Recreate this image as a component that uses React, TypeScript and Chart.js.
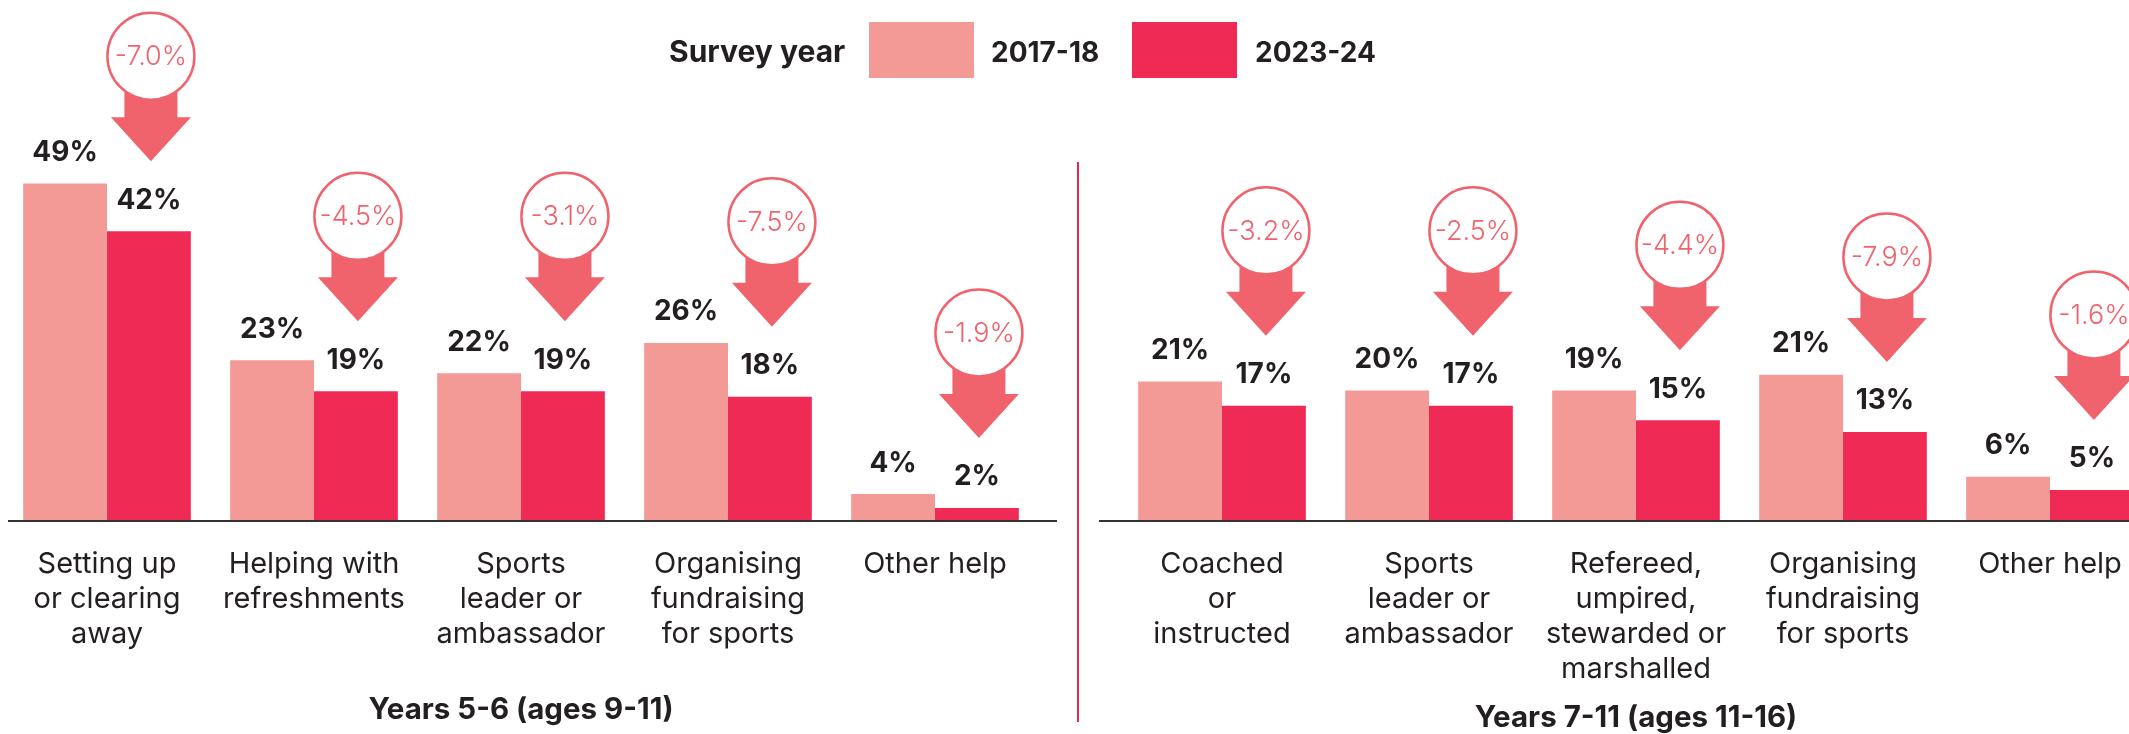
import React, { useEffect, useRef } from "react";
import { Chart, registerables } from "chart.js";

Chart.register(...registerables);

// ---------- data ----------
const SERIES_NAMES = ["2017-18", "2023-24"];
const LEGEND_TITLE = "Survey year";

const LEFT_CATEGORIES = [
  ["Setting up", "or clearing", "away"],
  ["Helping with", "refreshments"],
  ["Sports", "leader or", "ambassador"],
  ["Organising", "fundraising", "for sports"],
  ["Other help"],
];
const LEFT_2017 = [48.9, 23.3, 21.4, 25.8, 3.9];
const LEFT_2023 = [42.0, 18.8, 18.8, 18.0, 1.9];
const LEFT_LABELS_2017 = ["49%", "23%", "22%", "26%", "4%"];
const LEFT_LABELS_2023 = ["42%", "19%", "19%", "18%", "2%"];
const LEFT_CHANGE = ["-7.0%", "-4.5%", "-3.1%", "-7.5%", "-1.9%"];
const LEFT_TITLE = "Years 5-6 (ages 9-11)";

const RIGHT_CATEGORIES = [
  ["Coached", "or", "instructed"],
  ["Sports", "leader or", "ambassador"],
  ["Refereed,", "umpired,", "stewarded or", "marshalled"],
  ["Organising", "fundraising", "for sports"],
  ["Other help"],
];
const RIGHT_2017 = [20.2, 18.9, 18.9, 21.2, 6.4];
const RIGHT_2023 = [16.7, 16.7, 14.6, 12.9, 4.5];
const RIGHT_LABELS_2017 = ["21%", "20%", "19%", "21%", "6%"];
const RIGHT_LABELS_2023 = ["17%", "17%", "15%", "13%", "5%"];
const RIGHT_CHANGE = ["-3.2%", "-2.5%", "-4.4%", "-7.9%", "-1.6%"];
const RIGHT_TITLE = "Years 7-11 (ages 11-16)";

// ---------- style ----------
const FONT = "Inter, 'Noto Sans', sans-serif";
const PINK = "#f49a96";
const RED = "#ee2a55";
const ARROW = "#f0636d";
const DARK = "#231f20";
const DIVIDER = "#e3284f";

type PanelProps = {
  categories: string[][];
  a: number[];
  b: number[];
  labelsA: string[];
  labelsB: string[];
  change: string[];
  title: string;
  width: number;
  padLeft: number;
  padRight: number;
  titlePadBottom: number;
  lineLeft: number;
  lineRight: number;
};

function Panel(p: PanelProps) {
  const ref = useRef<HTMLCanvasElement | null>(null);
  useEffect(() => {
    if (!ref.current) return;
    const annot = {
      id: "annot",
      afterDraw(chart: any) {
        const ctx = chart.ctx;
        const y0 = chart.scales.y.getPixelForValue(0);
        const area = chart.chartArea;
        ctx.save();
        // baseline
        ctx.strokeStyle = "#333333";
        ctx.lineWidth = 2;
        ctx.beginPath();
        ctx.moveTo(area.left - p.lineLeft, y0);
        ctx.lineTo(area.right + p.lineRight, y0);
        ctx.stroke();
        // value labels
        ctx.fillStyle = DARK;
        ctx.font = `700 28px ${FONT}`;
        ctx.textAlign = "center";
        ctx.textBaseline = "middle";
        const m0 = chart.getDatasetMeta(0).data;
        const m1 = chart.getDatasetMeta(1).data;
        m0.forEach((el: any, i: number) => ctx.fillText(p.labelsA[i], el.x, el.y - 31));
        m1.forEach((el: any, i: number) => ctx.fillText(p.labelsB[i], el.x, el.y - 31));
        // arrows
        m1.forEach((el: any, i: number) => {
          const x = el.x + 2;
          const tip = el.y - 70;
          const headTop = tip - 44;
          const cy = tip - 105;
          ctx.fillStyle = ARROW;
          ctx.fillRect(x - 26.5, cy, 53, headTop - cy + 1);
          ctx.beginPath();
          ctx.moveTo(x - 40, headTop);
          ctx.lineTo(x + 40, headTop);
          ctx.lineTo(x, tip);
          ctx.closePath();
          ctx.fill();
          ctx.beginPath();
          ctx.arc(x, cy, 43.5, 0, Math.PI * 2);
          ctx.fillStyle = "#ffffff";
          ctx.fill();
          ctx.lineWidth = 2.5;
          ctx.strokeStyle = ARROW;
          ctx.stroke();
          ctx.fillStyle = ARROW;
          ctx.font = `300 27px ${FONT}`;
          ctx.fillText(p.change[i], x, cy + 1);
        });
        ctx.restore();
      },
    };
    const chart = new Chart(ref.current, {
      type: "bar",
      data: {
        labels: p.categories as any,
        datasets: [
          { label: SERIES_NAMES[0], data: p.a, backgroundColor: PINK },
          { label: SERIES_NAMES[1], data: p.b, backgroundColor: RED },
        ],
      },
      options: {
        animation: false,
        responsive: false,
        maintainAspectRatio: false,
        layout: { padding: { left: p.padLeft, right: p.padRight, top: 38, bottom: 0 } },
        datasets: { bar: { categoryPercentage: 0.81, barPercentage: 1 } } as any,
        plugins: { legend: { display: false }, tooltip: { enabled: false }, title: { display: false } },
        scales: {
          x: {
            grid: { display: false },
            border: { display: false },
            ticks: {
              color: DARK,
              font: { family: FONT, size: 29, lineHeight: 35 / 29 },
              padding: 18,
              maxRotation: 0,
              minRotation: 0,
              autoSkip: false,
            },
            title: {
              display: true,
              text: p.title,
              color: DARK,
              font: { family: FONT, size: 29.5, weight: "bold", lineHeight: 32.4 / 29.5 },
              padding: { top: 0, bottom: p.titlePadBottom },
            },
            afterFit: (s: any) => {
              s.height = 213;
            },
          },
          y: { display: false, min: 0, max: 70 },
        },
      },
      plugins: [annot],
    });
    return () => chart.destroy();
  }, []);
  return <canvas ref={ref} width={p.width} height={734} style={{ width: p.width, height: 734, display: "block" }} />;
}

export default function App() {
  const colors = [PINK, RED];
  const boxLefts = [869, 1132];
  const textLefts = [991, 1255];
  return (
    <div style={{ position: "fixed", left: 0, top: 0, width: 2129, height: 734, overflow: "hidden", background: "#fff", fontFamily: FONT }}>
      <div style={{ position: "absolute", left: 0, top: 0 }}>
        <Panel
          categories={LEFT_CATEGORIES}
          a={LEFT_2017}
          b={LEFT_2023}
          labelsA={LEFT_LABELS_2017}
          labelsB={LEFT_LABELS_2023}
          change={LEFT_CHANGE}
          title={LEFT_TITLE}
          width={1070}
          padLeft={3.5}
          padRight={31.5}
          titlePadBottom={8}
          lineLeft={-4.5}
          lineRight={18.5}
        />
      </div>
      <div style={{ position: "absolute", left: 1070, top: 0 }}>
        <Panel
          categories={RIGHT_CATEGORIES}
          a={RIGHT_2017}
          b={RIGHT_2023}
          labelsA={RIGHT_LABELS_2017}
          labelsB={RIGHT_LABELS_2023}
          change={RIGHT_CHANGE}
          title={RIGHT_TITLE}
          width={1090}
          padLeft={48.5}
          padRight={6.5}
          titlePadBottom={0}
          lineLeft={19.5}
          lineRight={20}
        />
      </div>
      <div style={{ position: "absolute", left: 1077, top: 162, width: 2, height: 560, background: DIVIDER }} />
      <div style={{ position: "absolute", left: 669, top: 32, fontSize: 30, fontWeight: 700, color: DARK, lineHeight: "38px", whiteSpace: "nowrap" }}>
        {LEGEND_TITLE}
      </div>
      {SERIES_NAMES.map((name, i) => (
        <React.Fragment key={name}>
          <div style={{ position: "absolute", left: boxLefts[i], top: 22, width: 105, height: 56, background: colors[i] }} />
          <div style={{ position: "absolute", left: textLefts[i], top: 33, fontSize: 28, fontWeight: 700, color: DARK, lineHeight: "38px", whiteSpace: "nowrap" }}>
            {name}
          </div>
        </React.Fragment>
      ))}
    </div>
  );
}
